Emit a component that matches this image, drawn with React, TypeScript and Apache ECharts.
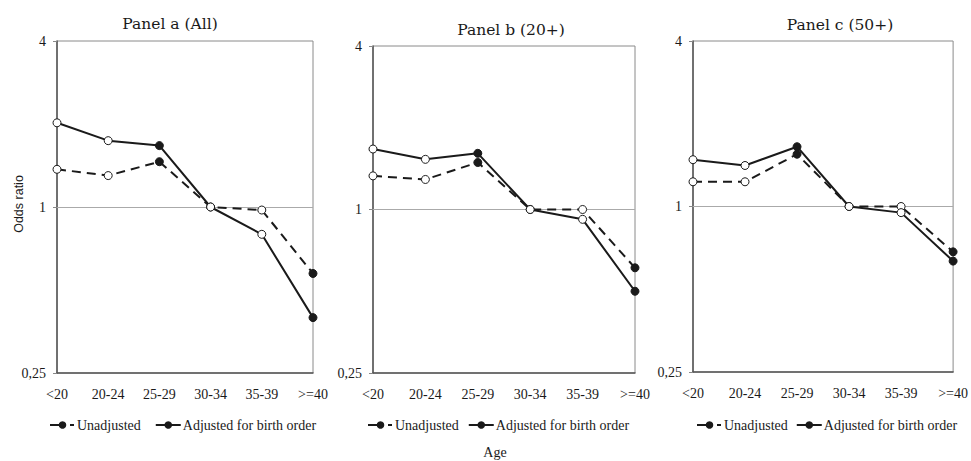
import React, { useEffect, useRef } from "react";
import * as echarts from "echarts";

const categories = ["<20", "20-24", "25-29", "30-34", "35-39", ">=40"];
const yTickValues = [0.25, 1, 4];

const aUnadjusted = [1.37, 1.3, 1.46, 1, 0.975, 0.574];
const aAdjusted = [2.02, 1.74, 1.67, 1, 0.796, 0.397];
const bUnadjusted = [1.33, 1.29, 1.49, 1, 1.0, 0.61];
const bAdjusted = [1.67, 1.53, 1.61, 1, 0.92, 0.5];
const cUnadjusted = [1.23, 1.23, 1.55, 1, 1.0, 0.684];
const cAdjusted = [1.48, 1.41, 1.65, 1, 0.95, 0.633];

// 1 = significant (filled marker), 0 = not significant (open marker)
const aUnadjustedSig = [0, 0, 1, 0, 0, 1];
const aAdjustedSig = [0, 0, 1, 0, 0, 1];
const bUnadjustedSig = [0, 0, 1, 0, 0, 1];
const bAdjustedSig = [0, 0, 1, 0, 0, 1];
const cUnadjustedSig = [0, 0, 1, 0, 0, 1];
const cAdjustedSig = [0, 0, 1, 0, 0, 1];

const panelTitles = ["Panel a (All)", "Panel b (20+)", "Panel c (50+)"];
const seriesNames = ["Unadjusted", "Adjusted for birth order"];

const SERIF = "Liberation Serif";
const TITLE_FONT = "DejaVu Serif";
const INK = "#1a1a1a";

export default function App() {
  const ref = useRef<HTMLDivElement>(null);

  useEffect(() => {
    document.body.style.margin = "0";
    if (!ref.current) return;
    const chart = echarts.init(ref.current, undefined, { renderer: "svg" });

    const grids = [
      { left: 57, top: 41, width: 256, height: 332 },
      { left: 373, top: 46, width: 262, height: 327 },
      { left: 693, top: 41, width: 263, height: 331 },
    ];
    const titlePos = [
      { x: 165, y: 19 },
      { x: 506, y: 25 },
      { x: 835, y: 20 },
    ];
    const legendPos = [
      { left: 44, gap: 14 },
      { left: 362, gap: 9 },
      { left: 691, gap: 8 },
    ];

    const unadj = [aUnadjusted, bUnadjusted, cUnadjusted];
    const unadjSig = [aUnadjustedSig, bUnadjustedSig, cUnadjustedSig];
    const adj = [aAdjusted, bAdjusted, cAdjusted];
    const adjSig = [aAdjustedSig, bAdjustedSig, cAdjustedSig];

    const mkData = (vals: number[], sig: number[]) =>
      vals.map((v, i) => ({
        value: v,
        itemStyle: { color: sig[i] ? INK : "#ffffff", borderColor: INK, borderWidth: 1 },
      }));

    const series: any[] = [];
    for (let p = 0; p < 3; p++) {
      series.push({
        name: seriesNames[0],
        type: "line",
        xAxisIndex: p,
        yAxisIndex: p,
        data: mkData(unadj[p], unadjSig[p]),
        symbol: "circle",
        symbolSize: 8,
        lineStyle: { color: INK, width: 2, type: [9, 6] },
        itemStyle: { color: INK, borderColor: INK, borderWidth: 1 },
        z: 3,
        markLine: {
          silent: true,
          symbol: "none",
          label: { show: false },
          lineStyle: { color: "#aaaaaa", width: 1, type: "solid" },
          data: [{ yAxis: 1 }],
          z: 1,
        },
      });
      series.push({
        name: seriesNames[1],
        type: "line",
        xAxisIndex: p,
        yAxisIndex: p,
        data: mkData(adj[p], adjSig[p]),
        symbol: "circle",
        symbolSize: 8,
        lineStyle: { color: INK, width: 2, type: "solid" },
        itemStyle: { color: INK, borderColor: INK, borderWidth: 1 },
        z: 4,
      });
    }

    const option: any = {
      animation: false,
      backgroundColor: "#ffffff",
      textStyle: { fontFamily: SERIF, color: INK },
      title: panelTitles.map((t, i) => ({
        text: t,
        left: titlePos[i].x,
        top: titlePos[i].y,
        textAlign: "center",
        textVerticalAlign: "middle",
        textStyle: { fontFamily: TITLE_FONT, fontSize: 15.5, fontWeight: "normal", color: INK },
      })),
      legend: legendPos.map((l) => ({
        data: [
          {
            name: seriesNames[0],
            lineStyle: { color: INK, width: 2, type: [9.5, 10.5, 4, 10] },
          },
          { name: seriesNames[1] },
        ],
        left: l.left,
        top: 413,
        orient: "horizontal",
        itemWidth: 25,
        itemHeight: 7,
        itemGap: l.gap,
        selectedMode: false,
        textStyle: { fontFamily: SERIF, fontSize: 14, color: INK, padding: [0, 0, 0, -3] },
      })),
      grid: grids.map((g) => ({
        ...g,
        show: true,
        borderColor: "#8a8a8a",
        borderWidth: 1,
        backgroundColor: "transparent",
      })),
      xAxis: grids.map((_, i) => ({
        type: "category",
        gridIndex: i,
        data: categories,
        boundaryGap: false,
        axisLine: { show: true, lineStyle: { color: "#555555", width: 1.5 } },
        axisTick: { show: false },
        axisLabel: { fontFamily: SERIF, fontSize: 14, color: INK, margin: 14, interval: 0 },
        splitLine: { show: false },
      })),
      yAxis: grids.map((_, i) => ({
        type: "log",
        logBase: 2,
        gridIndex: i,
        min: 0.25,
        max: 4,
        axisLine: { show: true, lineStyle: { color: "#555555", width: 1.5 } },
        axisTick: {
          show: true,
          length: 4,
          lineStyle: { color: "#888888" },
          customValues: yTickValues,
        },
        axisLabel: {
          fontFamily: SERIF,
          fontSize: 14,
          color: INK,
          margin: 11,
          customValues: yTickValues,
          formatter: (v: number) =>
            yTickValues.some((t) => Math.abs(t - v) < 1e-6) ? String(v).replace(".", ",") : "",
        },
        splitLine: { show: false },
      })),
      graphic: [
        {
          type: "text",
          x: 19,
          y: 204,
          rotation: Math.PI / 2,
          style: {
            text: "Odds ratio",
            fontFamily: "Liberation Sans",
            fontSize: 12.5,
            fill: INK,
            align: "center",
            verticalAlign: "middle",
          },
        },
        {
          type: "text",
          x: 495,
          y: 452,
          style: {
            text: "Age",
            fontFamily: SERIF,
            fontSize: 14,
            fill: INK,
            align: "center",
            verticalAlign: "middle",
          },
        },
      ],
      series,
    };

    chart.setOption(option);
    return () => chart.dispose();
  }, []);

  return <div ref={ref} style={{ width: 971, height: 461 }} />;
}
